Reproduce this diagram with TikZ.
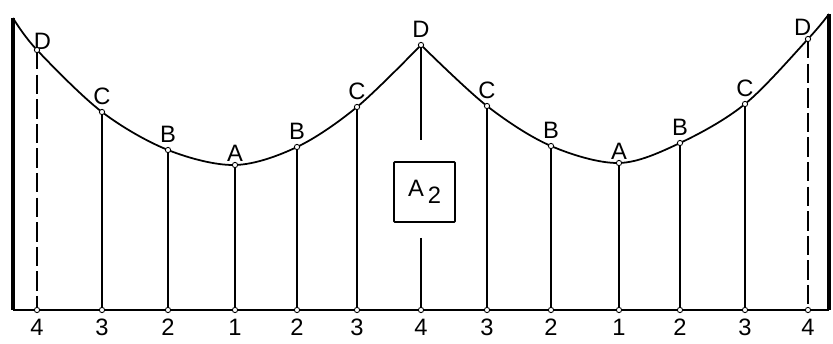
\documentclass[tikz,border=0pt]{standalone}
\usepackage{fontspec}
\setsansfont{Liberation Sans}
\usetikzlibrary{positioning}
\begin{document}
\begin{tikzpicture}[
  x=0.02cm, y=-0.02cm,
  font=\sffamily\fontsize{13.5}{16}\selectfont,
  wall/.style={line width=2pt},
  ord/.style={line width=0.9pt},
  ordend/.style={line width=0.9pt, dash pattern=on 11pt off 3pt},
  rope/.style={line width=1pt},
  pt/.style={circle, draw, fill=white, inner sep=0pt, minimum size=3pt, line width=0.5pt},
  lbl/.style={inner sep=1pt},
  areabox/.style={draw, line width=1pt, minimum width=1.22cm, minimum height=1.2cm, rounded corners=0.5pt},
]
\useasboundingbox (0,0) rectangle (833,344);
% ---- walls and ground ----
\coordinate (tl) at (13,18);
\coordinate (bl) at (13,310);
\coordinate (tr) at (829,14);
\coordinate (br) at (829,310);
\draw[wall] (tl) -- (bl);
\draw[wall] (tr) -- (br);
\draw[ord] (bl) -- (br);

% ---- points on the rope ----
\foreach \n/\x/\y/\l/\d in {p1/37/50/D/4, p2/102/112/C/3, p3/168/150/B/2, p4/235/165/A/1,
  p5/297/147/B/2, p6/357/107/C/3, p7/421/45/D/4, p8/487/106/C/3, p9/551/146/B/2,
  p10/619/163/A/1, p11/680/143/B/2, p12/745/104/C/3, p13/808/39/D/4} {
  \coordinate (\n) at (\x,\y);
  \coordinate (\n b) at (\x,310);
  \node[lbl, below=4pt of \n b] (\n d) {\d};
}
\node[lbl, above right=-1pt and -3pt of p1] (l1) {D};
\node[lbl, above=3pt of p2] (l2) {C};
\node[lbl, above=3pt of p3] (l3) {B};
\node[lbl, above=1pt of p4] (l4) {A};
\node[lbl, above=3pt of p5] (l5) {B};
\node[lbl, above=3pt of p6] (l6) {C};
\node[lbl, above=3pt of p7] (l7) {D};
\node[lbl, above=3pt of p8] (l8) {C};
\node[lbl, above=3pt of p9] (l9) {B};
\node[lbl, above=1pt of p10] (l10) {A};
\node[lbl, above=3pt of p11] (l11) {B};
\node[lbl, above=3pt of p12] (l12) {C};
\node[lbl, above left=1pt and -3pt of p13] (l13) {D};

% ---- rope ----
\draw[rope] plot[smooth, tension=0.55] coordinates {(tl) (p1) (p2) (p3) (p4) (p5) (p6) (p7)};
\draw[rope] plot[smooth, tension=0.55] coordinates {(p7) (p8) (p9) (p10) (p11) (p12) (p13) (tr)};

% ---- ordinates ----
\foreach \n in {p2, p3, p4, p5, p6, p8, p9, p10, p11, p12} \draw[ord] (\n) -- (\n b);
\draw[ordend] (p1) -- (p1b);
\draw[ordend] (p13) -- (p13b);
\node[areabox] (area) at (424.5,192) {A\,\raisebox{-0.6ex}{2}};
\coordinate (gtop) at (421,140);
\coordinate (gbot) at (421,238);
\draw[ord] (p7) -- (gtop);
\draw[ord] (gbot) -- (p7b);

% ---- small circles ----
\foreach \n in {p1, p2, p3, p4, p5, p6, p7, p8, p9, p10, p11, p12, p13} {
  \node[pt] at (\n) {};
  \node[pt] at (\n b) {};
}
\end{tikzpicture}
\end{document}
